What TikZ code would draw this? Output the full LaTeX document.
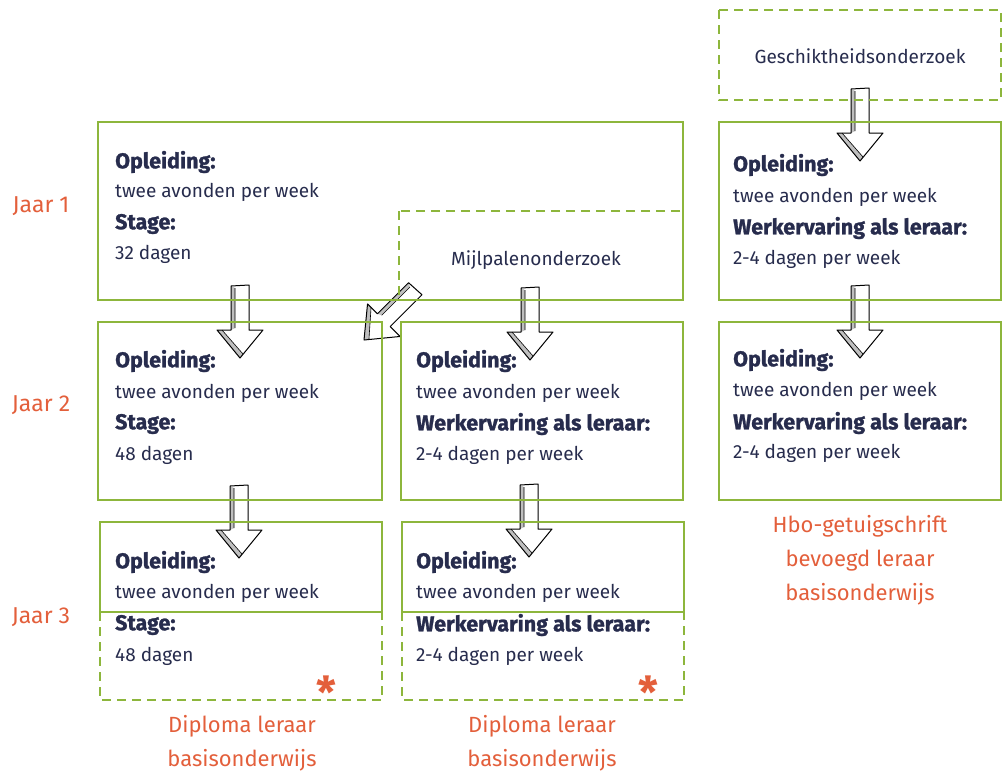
\documentclass[tikz,border=0pt]{standalone}
\usepackage{fontspec}
\setmainfont{Fira Sans}
\newfontfamily\hdfont{Fira Sans}[BoldFeatures={FakeBold=1.2}]
\definecolor{grn}{HTML}{8DB63C}
\definecolor{navy}{HTML}{272C4D}
\definecolor{org}{HTML}{E35F3B}
\tikzset{
  blockarrow/.pic={
    \fill[gray!50] (-9,-72) -- (-5,-70) -- (-5,-30) -- (-9,-28) -- cycle;
    \fill[gray!50] (-23,-28) -- (0,0) -- (3,-4) -- (-18,-28) -- cycle;
    \draw[line width=1pt,line join=round] (0,0) -- (-23,-28) -- (-9,-28) -- (-9,-72) -- (9,-73) -- (9,-28) -- (23,-28) -- cycle;
    \draw[line width=0.6pt] (-5,-70) -- (-5,-30) (-18,-28) -- (3,-4);
  }
}
\begin{document}
\begin{tikzpicture}[x=1pt,y=-1pt,
  box/.style={draw=grn,line width=1.8pt},
  dbox/.style={draw=grn,line width=1.8pt,dash pattern=on 9pt off 6pt},
  ln/.style={anchor=west,inner sep=0pt,text=navy,font=\fontsize{19}{22}\selectfont},
  hd/.style={anchor=west,inner sep=0pt,text=navy,font=\hdfont\fontsize{21.5}{24}\selectfont\bfseries},
  ctr/.style={inner sep=0pt,text=navy,font=\fontsize{19}{22}\selectfont},
  jaar/.style={inner sep=0pt,text=org,font=\fontsize{23}{26}\selectfont},
  lab/.style={inner sep=0pt,text=org,align=center,font=\fontsize{22}{34}\selectfont},
  star/.style={inner sep=0pt,text=org,font=\fontsize{44}{44}\selectfont\bfseries}
]
\useasboundingbox (0,0) rectangle (1008,774);

% arrows (outline only, boxes visible through)
\pic at (240,358) {blockarrow};
\pic at (239,558) {blockarrow};
\pic at (530,360) {blockarrow};
\pic at (529,557) {blockarrow};
\pic at (860,161) {blockarrow};
\pic at (860,358) {blockarrow};
\pic[rotate=-45] at (364,340) {blockarrow};

% dashed boxes
\draw[dbox] (719,10) rectangle (1001,100);
\draw[dbox] (399,211) rectangle (683,300);
\draw[dbox] (100,612) rectangle (382,700);
\draw[dbox] (402,612) rectangle (684,700);

% solid boxes
\draw[box] (98,122) rectangle (683,300);
\draw[box] (98,322) rectangle (382,500);
\draw[box] (401,322) rectangle (683,500);
\draw[box] (100,522) rectangle (382,612);
\draw[box] (402,522) rectangle (684,612);
\draw[box] (719,122) rectangle (1001,300);
\draw[box] (719,322) rectangle (1001,500);

% year labels
\node[jaar] (j1) at (41,206) {Jaar 1};
\node[jaar] (j2) at (41,405) {Jaar 2};
\node[jaar] (j3) at (41,617) {Jaar 3};

% top centered texts
\node[ctr] (ges) at (860,56) {Geschiktheidsonderzoek};
\node[ctr] (mij) at (536,260) {Mijlpalenonderzoek};

% year 1 left
\node[hd] (a1) at (115,162) {Opleiding:};
\node[ln] (a2) at (115,192) {twee avonden per week};
\node[hd] (a3) at (115,224) {Stage:};
\node[ln] (a4) at (115,254) {32 dagen};

% year 2 left
\node[hd] (b1) at (115,361) {Opleiding:};
\node[ln] (b2) at (115,393) {twee avonden per week};
\node[hd] (b3) at (115,424) {Stage:};
\node[ln] (b4) at (115,455) {48 dagen};

% year 2 mid
\node[hd] (c1) at (416,361) {Opleiding:};
\node[ln] (c2) at (416,393) {twee avonden per week};
\node[hd] (c3) at (416,424) {Werkervaring als leraar:};
\node[ln] (c4) at (416,455) {2-4 dagen per week};

% year 3 left
\node[hd] (d1) at (115,562) {Opleiding:};
\node[ln] (d2) at (115,593) {twee avonden per week};
\node[hd] (d3) at (115,625) {Stage:};
\node[ln] (d4) at (115,656) {48 dagen};

% year 3 mid
\node[hd] (e1) at (416,562) {Opleiding:};
\node[ln] (e2) at (416,593) {twee avonden per week};
\node[hd] (e3) at (416,625) {Werkervaring als leraar:};
\node[ln] (e4) at (416,656) {2-4 dagen per week};

% right column
\node[hd] (f1) at (733,165) {Opleiding:};
\node[ln] (f2) at (733,197) {twee avonden per week};
\node[hd] (f3) at (733,228) {Werkervaring als leraar:};
\node[ln] (f4) at (733,259) {2-4 dagen per week};

\node[hd] (g1) at (733,360) {Opleiding:};
\node[ln] (g2) at (733,391) {twee avonden per week};
\node[hd] (g3) at (733,423) {Werkervaring als leraar:};
\node[ln] (g4) at (733,453) {2-4 dagen per week};

% asterisks
\node[star] (s1) at (326,692) {*};
\node[star] (s2) at (648,692) {*};

% bottom labels
\node[lab] (l1) at (242,743) {Diploma leraar\\basisonderwijs};
\node[lab] (l2) at (542,743) {Diploma leraar\\basisonderwijs};
\node[lab] (l3) at (860,560) {Hbo-getuigschrift\\bevoegd leraar\\basisonderwijs};
\end{tikzpicture}
\end{document}
